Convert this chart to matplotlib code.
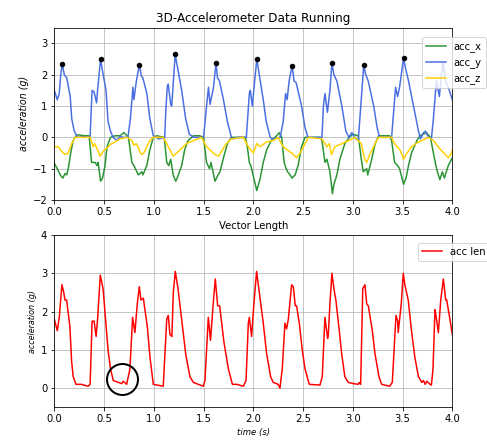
import matplotlib
matplotlib.use("Agg")
import matplotlib.pyplot as plt

# ---------------- data ----------------
y_t = [0.00, 0.03, 0.05, 0.065, 0.08, 0.10, 0.125, 0.16, 0.175, 0.20, 0.235, 0.30, 0.36, 0.37, 0.38, 0.40, 0.425, 0.435,
       0.465, 0.48, 0.52, 0.54, 0.565, 0.59, 0.63, 0.66, 0.70, 0.74, 0.765, 0.79, 0.80, 0.825, 0.855, 0.875, 0.89, 0.93,
       0.96, 0.995, 1.05, 1.11, 1.12, 1.135, 1.145, 1.17, 1.18, 1.215, 1.24, 1.28, 1.32, 1.357, 1.40, 1.50, 1.53, 1.55,
       1.565, 1.60, 1.625, 1.64, 1.66, 1.70, 1.74, 1.78, 1.80, 1.85, 1.93, 1.96, 1.97, 1.99, 2.035, 2.06, 2.10, 2.13,
       2.17, 2.19, 2.27, 2.30, 2.325, 2.34, 2.36, 2.39, 2.41, 2.43, 2.485, 2.52, 2.55, 2.69, 2.705, 2.72, 2.745, 2.77,
       2.79, 2.81, 2.84, 2.89, 2.93, 2.96, 2.99, 3.03, 3.055, 3.08, 3.11, 3.13, 3.155, 3.21, 3.245, 3.27, 3.39, 3.43,
       3.45, 3.47, 3.51, 3.53, 3.56, 3.61, 3.66, 3.68, 3.71, 3.73, 3.76, 3.79, 3.81, 3.84, 3.87, 3.89, 3.91, 3.93, 3.96, 4.0]
acc_y = [1.5, 1.2, 1.4, 2.0, 2.35, 2.0, 1.9, 1.3, 0.6, 0.2, 0.0, 0.02, 0.0, 0.8, 1.5, 1.45, 1.1, 1.5,
         2.5, 2.2, 1.5, 0.5, 0.2, 0.0, -0.1, 0.02, 0.0, 0.0, 0.6, 1.6, 1.2, 1.8, 2.32, 1.95, 1.9, 1.4,
         0.6, 0.05, -0.05, 0.0, 0.8, 1.6, 1.7, 1.05, 1.0, 2.65, 2.2, 1.5, 0.6, 0.1, 0.0, 0.0, 1.0, 1.6,
         1.05, 1.6, 2.37, 1.9, 1.8, 1.2, 0.5, 0.0, -0.05, 0.0, 0.0, 1.4, 1.5, 1.0, 2.5, 2.0, 1.2, 0.5,
         0.0, -0.05, 0.0, 0.5, 1.4, 1.2, 1.8, 2.28, 1.8, 1.75, 1.0, 0.3, 0.0, 0.0, 1.0, 1.4, 0.8, 1.5,
         2.37, 2.0, 1.8, 1.0, 0.2, 0.0, 0.15, -0.05, -0.1, 1.0, 2.3, 2.0, 1.8, 1.0, 0.3, 0.0, 0.0, 1.6,
         1.3, 1.6, 2.53, 2.2, 1.8, 1.0, 0.2, -0.05, 0.15, 0.2, 0.0, -0.05, 0.6, 1.8, 1.3, 2.0, 2.4, 1.8, 1.6, 1.2]

x_t = [0.00, 0.03, 0.06, 0.085, 0.11, 0.125, 0.14, 0.165, 0.19, 0.22, 0.245, 0.30, 0.35, 0.36, 0.375, 0.41, 0.43, 0.44,
       0.465, 0.485, 0.51, 0.53, 0.565, 0.61, 0.66, 0.70, 0.73, 0.745, 0.78, 0.80, 0.83, 0.845, 0.88, 0.89, 0.93, 0.96,
       0.995, 1.03, 1.105, 1.13, 1.15, 1.17, 1.195, 1.22, 1.235, 1.28, 1.31, 1.345, 1.40, 1.46, 1.50, 1.53, 1.56, 1.575,
       1.615, 1.645, 1.665, 1.705, 1.74, 1.78, 1.92, 1.94, 1.96, 1.975, 1.99, 2.035, 2.07, 2.10, 2.134, 2.18, 2.235,
       2.26, 2.285, 2.31, 2.33, 2.345, 2.37, 2.39, 2.42, 2.45, 2.485, 2.52, 2.67, 2.69, 2.72, 2.74, 2.77, 2.795, 2.81,
       2.84, 2.87, 2.92, 2.965, 3.0, 3.055, 3.09, 3.105, 3.14, 3.15, 3.19, 3.225, 3.26, 3.37, 3.39, 3.42, 3.45, 3.47,
       3.51, 3.535, 3.56, 3.59, 3.645, 3.675, 3.74, 3.78, 3.81, 3.835, 3.85, 3.875, 3.90, 3.92, 3.96, 4.0]
acc_x = [-0.83, -1.0, -1.2, -1.3, -1.15, -1.2, -1.0, -0.5, -0.1, 0.05, 0.08, 0.05, 0.05, -0.3, -0.8, -0.8, -0.9, -0.8,
         -1.4, -1.3, -0.9, -0.3, 0.0, 0.05, 0.05, 0.15, 0.05, 0.0, -0.8, -0.9, -1.1, -1.2, -1.1, -1.2, -0.9, -0.4,
         0.0, 0.05, 0.0, -0.8, -0.9, -0.7, -1.2, -1.4, -1.3, -0.9, -0.4, -0.1, 0.05, 0.05, 0.0, -0.8, -1.0, -0.8,
         -1.4, -1.2, -1.1, -0.6, -0.2, 0.0, 0.0, -0.3, -0.8, -0.9, -1.1, -1.7, -1.3, -0.8, -0.4, -0.1, 0.05,
         0.15, 0.0, -0.8, -1.0, -1.1, -1.2, -1.3, -1.2, -0.9, -0.3, 0.0, 0.0, -0.1, -0.8, -0.7, -1.1, -1.8, -1.5,
         -1.2, -0.7, -0.2, 0.0, 0.1, 0.05, -0.8, -1.1, -1.0, -1.2, -0.7, -0.2, 0.05, 0.05, -0.1, -0.8, -0.9, -1.0,
         -1.5, -1.3, -0.9, -0.5, -0.1, 0.05, 0.15, 0.0, -0.5, -0.9, -1.1, -1.35, -1.1, -1.3, -0.9, -0.65]

z_t = [0.00, 0.04, 0.075, 0.11, 0.14, 0.175, 0.21, 0.36, 0.39, 0.405, 0.435, 0.46, 0.49, 0.525, 0.575, 0.61, 0.66, 0.73,
       0.78, 0.80, 0.825, 0.86, 0.875, 0.90, 0.93, 0.96, 0.995, 1.095, 1.13, 1.145, 1.195, 1.23, 1.28, 1.33, 1.40, 1.48,
       1.53, 1.565, 1.615, 1.65, 1.68, 1.73, 1.78, 1.90, 1.95, 2.0, 2.035, 2.07, 2.13, 2.20, 2.25, 2.30, 2.385, 2.435,
       2.47, 2.52, 2.555, 2.69, 2.72, 2.74, 2.765, 2.785, 2.82, 2.89, 2.96, 3.02, 3.085, 3.12, 3.14, 3.17, 3.21, 3.24,
       3.26, 3.39, 3.42, 3.46, 3.475, 3.51, 3.545, 3.59, 3.66, 3.73, 3.76, 3.81, 3.87, 3.93, 3.96, 3.985, 4.0]
acc_z = [-0.3, -0.3, -0.45, -0.55, -0.5, -0.2, 0.0, 0.0, -0.3, -0.2, -0.4, -0.6, -0.45, -0.35, -0.2, -0.15, -0.05, 0.0,
         -0.1, -0.25, -0.2, -0.45, -0.55, -0.5, -0.3, -0.1, 0.0, 0.0, -0.2, -0.3, -0.6, -0.5, -0.35, -0.2, -0.1, 0.0,
         -0.3, -0.4, -0.55, -0.6, -0.45, -0.2, -0.05, 0.0, -0.3, -0.5, -0.2, -0.3, -0.15, -0.1, 0.0, -0.3, -0.5, -0.65,
         -0.5, -0.2, 0.0, -0.05, -0.2, -0.3, -0.2, -0.55, -0.3, -0.2, -0.1, 0.0, -0.2, -0.7, -0.8, -0.55, -0.3, -0.1,
         0.0, 0.0, -0.2, -0.35, -0.4, -0.7, -0.5, -0.3, -0.15, -0.05, 0.0, -0.1, -0.35, -0.55, -0.65, -0.55, -0.4]

peak_t = [0.08, 0.465, 0.855, 1.215, 1.625, 2.035, 2.39, 2.79, 3.11, 3.51]
peak_v = [2.35, 2.5, 2.32, 2.65, 2.37, 2.5, 2.28, 2.37, 2.3, 2.53]

len_t = [0.00, 0.03, 0.05, 0.077, 0.095, 0.107, 0.124, 0.157, 0.174, 0.19, 0.218, 0.27, 0.34, 0.36, 0.38, 0.40, 0.42,
         0.435, 0.462, 0.49, 0.515, 0.54, 0.565, 0.593, 0.643, 0.677, 0.693, 0.727, 0.76, 0.787, 0.81, 0.834, 0.854,
         0.871, 0.895, 0.935, 0.962, 0.995, 1.095, 1.13, 1.146, 1.162, 1.182, 1.196, 1.216, 1.243, 1.28, 1.32, 1.363,
         1.397, 1.497, 1.514, 1.548, 1.57, 1.597, 1.618, 1.642, 1.662, 1.705, 1.75, 1.79, 1.834, 1.90, 1.927, 1.95,
         1.96, 1.983, 2.006, 2.033, 2.06, 2.10, 2.134, 2.174, 2.20, 2.25, 2.268, 2.291, 2.318, 2.335, 2.352, 2.385,
         2.402, 2.422, 2.435, 2.462, 2.492, 2.52, 2.563, 2.67, 2.693, 2.72, 2.747, 2.754, 2.77, 2.79, 2.81, 2.83,
         2.864, 2.888, 2.92, 2.955, 3.005, 3.055, 3.065, 3.079, 3.10, 3.122, 3.14, 3.156, 3.196, 3.223, 3.263, 3.29,
         3.37, 3.397, 3.434, 3.451, 3.456, 3.487, 3.507, 3.523, 3.557, 3.59, 3.624, 3.66, 3.693, 3.71, 3.727, 3.744,
         3.777, 3.79, 3.806, 3.826, 3.836, 3.86, 3.884, 3.91, 3.934, 3.944, 3.97, 4.0]
acc_len = [1.8, 1.5, 1.85, 2.7, 2.5, 2.3, 2.3, 1.6, 0.7, 0.3, 0.1, 0.1, 0.05, 0.1, 1.75, 1.75, 1.35,
           1.8, 2.95, 2.6, 1.8, 1.0, 0.5, 0.2, 0.15, 0.12, 0.18, 0.1, 0.5, 1.85, 1.45, 2.2, 2.65,
           2.3, 2.35, 1.6, 0.8, 0.1, 0.05, 1.8, 1.9, 1.4, 1.35, 2.5, 3.05, 2.6, 1.8, 0.9, 0.3,
           0.15, 0.05, 0.2, 1.85, 1.25, 2.2, 2.85, 2.15, 2.15, 1.2, 0.5, 0.1, 0.1, 0.05, 0.2, 1.7,
           1.85, 1.35, 2.2, 3.05, 2.5, 1.7, 0.9, 0.3, 0.15, 0.1, 0.0, 0.5, 1.7, 1.55, 1.8, 2.7,
           2.65, 2.15, 2.15, 1.7, 1.0, 0.5, 0.1, 0.08, 0.3, 1.85, 1.3, 1.4, 2.2, 3.0, 2.6, 2.3,
           1.5, 0.9, 0.3, 0.15, 0.12, 0.1, 0.15, 0.1, 2.6, 2.7, 2.2, 2.15, 1.5, 0.9, 0.3, 0.1,
           0.05, 0.15, 1.9, 1.75, 1.45, 2.2, 3.0, 2.7, 2.3, 1.5, 0.8, 0.3, 0.15, 0.2, 0.1, 0.18,
           0.1, 0.08, 0.5, 2.05, 1.9, 1.45, 2.3, 2.85, 2.3, 2.3, 1.9, 1.4]

circle_t = [0.677]
circle_v = [0.25]

# ---------------- figure ----------------
W, H = 487, 440
fig = plt.figure(figsize=(W / 72, H / 72), dpi=72)
ax1 = fig.add_axes([54.3 / W, 1 - 200 / H, 398 / W, 172.3 / H])
ax2 = fig.add_axes([54.3 / W, 1 - 407.3 / H, 398 / W, 172.3 / H])

ax1.plot(x_t, acc_x, color='#2a9433', lw=1.5, label='acc_x')
ax1.plot(y_t, acc_y, color='#4a6fe3', lw=1.5, label='acc_y')
ax1.plot(z_t, acc_z, color='#ffd000', lw=1.5, label='acc_z')
ax1.plot(peak_t, peak_v, 'o', color='black', ms=4.5, zorder=5)
ax1.set_xlim(0, 4)
ax1.set_ylim(-2, 3.5)
ax1.set_yticks([-2, -1, 0, 1, 2, 3])
ax1.set_title('3D-Accelerometer Data Running', fontsize=12)
ax1.set_ylabel('acceleration (g)', fontsize=9.5, style='italic')
ax1.grid(True, color='#b8b8b8', lw=0.8)
ax1.tick_params(labelsize=10)
ax1.legend(loc='upper left', bbox_to_anchor=(0.923, 0.944), borderaxespad=0, fontsize=10)

ax2.plot(len_t, acc_len, color='red', lw=1.5, label='acc len')
ax2.plot(circle_t, circle_v, 'o', ms=31, mfc='none', mec='black', mew=2)
ax2.set_xlim(0, 4)
ax2.set_ylim(-0.5, 4)
ax2.set_yticks([0, 1, 2, 3, 4])
ax2.set_title('Vector Length', fontsize=10)
ax2.set_ylabel('acceleration (g)', fontsize=8, style='italic')
ax2.set_xlabel('time (s)', fontsize=8.5, style='italic')
ax2.grid(True, color='#b8b8b8', lw=0.8)
ax2.tick_params(labelsize=10)
ax2.legend(loc='upper left', bbox_to_anchor=(0.913, 0.955), borderaxespad=0, fontsize=10)

fig.savefig('out.png', dpi=72)
